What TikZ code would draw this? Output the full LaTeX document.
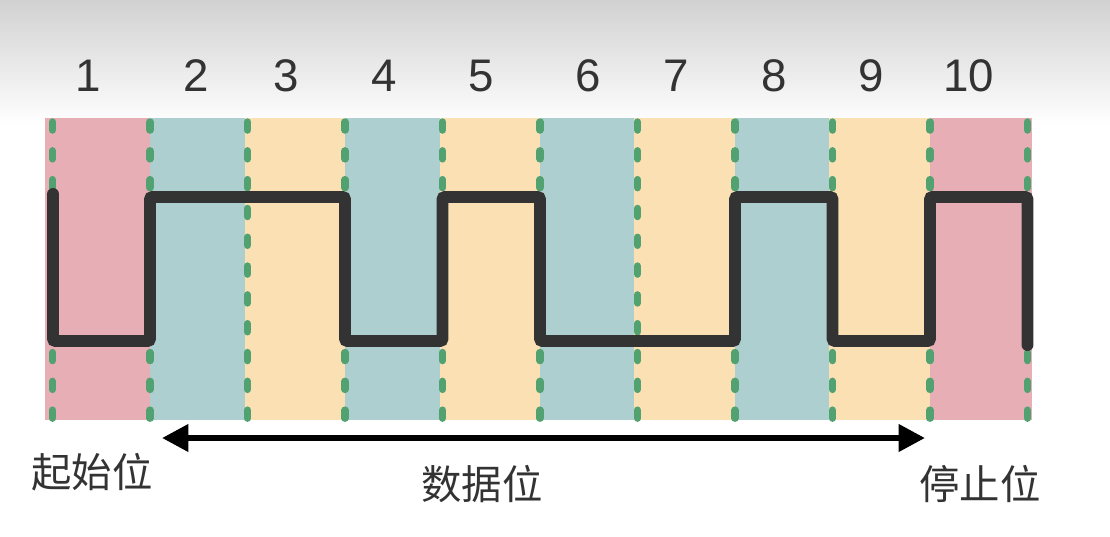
\documentclass[tikz,border=0pt]{standalone}
\usepackage{fontspec}
\setmainfont{Liberation Sans}
\newfontfamily\cjk{Noto Sans CJK SC}
\usetikzlibrary{arrows.meta}

\definecolor{startpink}{HTML}{E8AEB5}
\definecolor{bitteal}{HTML}{AECFD0}
\definecolor{bityellow}{HTML}{FAE0B3}
\definecolor{gridgreen}{HTML}{52A170}
\definecolor{wavegray}{HTML}{333333}

\begin{document}
\begin{tikzpicture}[x=0.02cm, y=-0.02cm,
  num/.style={text=wavegray, font=\fontsize{26}{28}\selectfont},
  label/.style={text=wavegray, font=\cjk\fontsize{23}{25}\selectfont},
  bitline/.style={gridgreen, line width=4.2pt, line cap=round, dash pattern=on 4.6pt off 11.8pt},
  signal/.style={wavegray, line width=6.8pt, line cap=round, rounded corners=1.5pt}]

\useasboundingbox (0,0) rectangle (1110,537);
\shade[top color=black!18, bottom color=white] (0,0) rectangle (1110,125);

% bit columns
\fill[startpink] (45,118) rectangle (152.5,420);
\fill[bitteal] (150,118) rectangle (245,420);
\fill[bityellow] (245,118) rectangle (345,420);
\fill[bitteal] (345,118) rectangle (440,420);
\fill[bityellow] (440,118) rectangle (540,420);
\fill[bitteal] (540,118) rectangle (634,420);
\fill[bityellow] (634,118) rectangle (735,420);
\fill[bitteal] (735,118) rectangle (829,420);
\fill[bityellow] (829,118) rectangle (930,420);
\fill[startpink] (930,118) rectangle (1032,420);

% column borders
\draw[bitline] (52.5,122) -- (52.5,420);
\draw[bitline] (150,122) -- (150,420);
\draw[bitline] (247.5,122) -- (247.5,420);
\draw[bitline] (345,122) -- (345,420);
\draw[bitline] (442.5,122) -- (442.5,420);
\draw[bitline] (540,122) -- (540,420);
\draw[bitline] (637.5,122) -- (637.5,420);
\draw[bitline] (735,122) -- (735,420);
\draw[bitline] (832.5,122) -- (832.5,420);
\draw[bitline] (930,122) -- (930,420);
\draw[bitline] (1027.5,122) -- (1027.5,420);

% signal
\draw[signal] (53,194) -- (53,341) -- (150,341) -- (150,197) -- (345,197)
  -- (345,341) -- (442.5,341) -- (442.5,197) -- (540,197) -- (540,341)
  -- (735,341) -- (735,197) -- (832.5,197) -- (832.5,341) -- (930,341)
  -- (930,197) -- (1027.5,197) -- (1027.5,345);

% bit numbers
\node[num] (n1) at (88,76) {1};
\node[num] (n2) at (196,76) {2};
\node[num] (n3) at (286,76) {3};
\node[num] (n4) at (384,76) {4};
\node[num] (n5) at (481,76) {5};
\node[num] (n6) at (588,76) {6};
\node[num] (n7) at (676,76) {7};
\node[num] (n8) at (774,76) {8};
\node[num] (n9) at (871,76) {9};
\node[num] (n10) at (969,76) {10};

\node[label] (start) at (92,472) {起始位};
\node[label] (data) at (482,484) {数据位};
\node[label] (stop) at (980,484) {停止位};

\coordinate (dataL) at (162,438);
\coordinate (dataR) at (925,438);
\draw[{Triangle[length=15pt,width=15pt]}-{Triangle[length=15pt,width=15pt]}, line width=3.4pt] (dataL) -- (dataR);

\end{tikzpicture}
\end{document}
